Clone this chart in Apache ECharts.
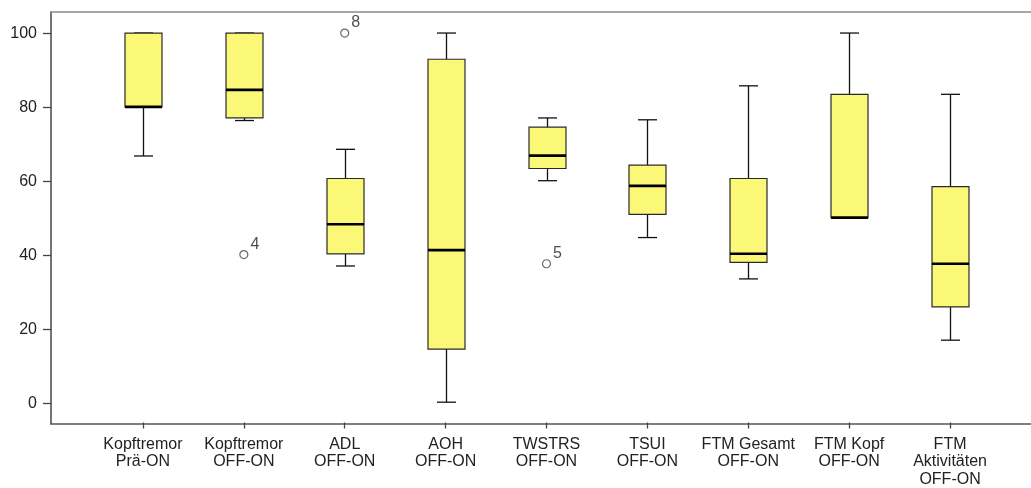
<!DOCTYPE html>
<html>
<head>
<meta charset="utf-8">
<script src="https://cdn.jsdelivr.net/npm/echarts@6/dist/echarts.min.js"></script>
<style>
  html, body { margin: 0; padding: 0; background: #fff; }
  #box { width: 1031px; height: 488px; }
</style>
</head>
<body>
<div id="box"></div>
<script>
// categories on the x axis
var categories = ['Kopftremor\nPrä-ON', 'Kopftremor\nOFF-ON', 'ADL\nOFF-ON', 'AOH\nOFF-ON', 'TWSTRS\nOFF-ON',
    'TSUI\nOFF-ON', 'FTM Gesamt\nOFF-ON', 'FTM Kopf\nOFF-ON', 'FTM\nAktivitäten\nOFF-ON'];
// five number summary per category
var lowWhisker = [66.7, 76.3, 36.9, 0, 60.0, 44.6, 33.4, 50, 16.8];
var q1 = [80, 77.0, 40.2, 14.4, 63.3, 50.9, 37.9, 50, 25.8];
var median = [80, 84.6, 48.2, 41.2, 66.8, 58.6, 40.2, 50, 37.5];
var q3 = [100, 100, 60.6, 92.9, 74.5, 64.2, 60.6, 83.4, 58.4];
var highWhisker = [100, 100, 68.5, 100, 77.0, 76.5, 85.7, 100, 83.4];
// outliers: category index, value, case label
var outlierCat = [1, 2, 4];
var outlierVal = [40, 100, 37.5];
var outlierCase = ['4', '8', '5'];
var yTicks = [0, 20, 40, 60, 80, 100];

var boxData = [];
for (var i = 0; i < categories.length; i++) {
    boxData.push([i, lowWhisker[i], q1[i], median[i], q3[i], highWhisker[i]]);
}
var outData = [];
for (var j = 0; j < outlierCat.length; j++) {
    outData.push({value: [outlierCat[j], outlierVal[j]], caseNo: outlierCase[j]});
}

var yMin = -5.5, yMax = 105.7;

function renderBox(params, api) {
    var idx = api.value(0);
    var pLow = api.coord([idx, api.value(1)]);
    var pQ1 = api.coord([idx, api.value(2)]);
    var pMed = api.coord([idx, api.value(3)]);
    var pQ3 = api.coord([idx, api.value(4)]);
    var pHigh = api.coord([idx, api.value(5)]);
    var cx = Math.round(pQ1[0]) + 0.5;
    var hw = 18.5, cap = 9.5;
    var line = {stroke: '#111', lineWidth: 1.3};
    return {
        type: 'group',
        children: [
            {type: 'line', shape: {x1: cx, y1: pHigh[1], x2: cx, y2: pQ3[1]}, style: line},
            {type: 'line', shape: {x1: cx, y1: pQ1[1], x2: cx, y2: pLow[1]}, style: line},
            {type: 'line', shape: {x1: cx - cap, y1: pHigh[1], x2: cx + cap, y2: pHigh[1]}, style: line},
            {type: 'line', shape: {x1: cx - cap, y1: pLow[1], x2: cx + cap, y2: pLow[1]}, style: line},
            {type: 'rect', shape: {x: cx - hw, y: pQ3[1], width: hw * 2, height: pQ1[1] - pQ3[1]},
                style: {fill: '#fbf877', stroke: '#2a2a2a', lineWidth: 1.2}},
            {type: 'line', shape: {x1: cx - hw, y1: pMed[1], x2: cx + hw, y2: pMed[1]},
                style: {stroke: '#000', lineWidth: 2.6}}
        ]
    };
}

var chart = echarts.init(document.getElementById('box'));
var frameAxis = function (pos, color) {
    return {
        gridIndex: 0, type: 'value', min: 0, max: 1, position: pos,
        axisLine: {show: true, onZero: false, lineStyle: {color: color, width: 1.5}},
        axisTick: {show: false}, axisLabel: {show: false}, splitLine: {show: false}
    };
};
var option = {
    animation: false,
    grid: [
        {left: 51, top: 12, right: 0, bottom: 64},
        {left: 92.5, top: 12, width: 908, bottom: 64}
    ],
    xAxis: [
        frameAxis('bottom', '#555'),
        frameAxis('top', '#8a8a8a'),
        {
            gridIndex: 1, type: 'category', data: categories,
            axisLine: {show: false, onZero: false},
            axisTick: {show: true, alignWithLabel: true, length: 6, lineStyle: {color: '#444', width: 1.3}},
            axisLabel: {color: '#222', fontSize: 16, fontFamily: 'Liberation Sans', lineHeight: 17.5, margin: 13, interval: 0}
        }
    ],
    yAxis: [
        {
            gridIndex: 0, type: 'value', min: yMin, max: yMax,
            axisLine: {show: true, onZero: false, lineStyle: {color: '#444', width: 1.5}},
            axisTick: {show: true, length: 8, customValues: yTicks, lineStyle: {color: '#444', width: 1.3}},
            axisLabel: {color: '#222', fontSize: 16, fontFamily: 'Liberation Sans', margin: 14, customValues: yTicks},
            splitLine: {show: false}
        },
        {gridIndex: 1, type: 'value', min: yMin, max: yMax, show: false}
    ],
    series: [
        {
            type: 'custom', xAxisIndex: 2, yAxisIndex: 1,
            renderItem: renderBox,
            encode: {x: 0, y: [1, 2, 3, 4, 5]},
            data: boxData
        },
        {
            type: 'scatter', xAxisIndex: 2, yAxisIndex: 1,
            symbol: 'circle', symbolSize: 8,
            itemStyle: {color: '#fff', borderColor: '#444', borderWidth: 1.2},
            label: {
                show: true, position: 'right', distance: 2, offset: [0, -10],
                color: '#222', fontSize: 16, fontFamily: 'Liberation Sans',
                formatter: function (p) { return p.data.caseNo; }
            },
            data: outData
        }
    ]
};
chart.setOption(option);
</script>
</body>
</html>
